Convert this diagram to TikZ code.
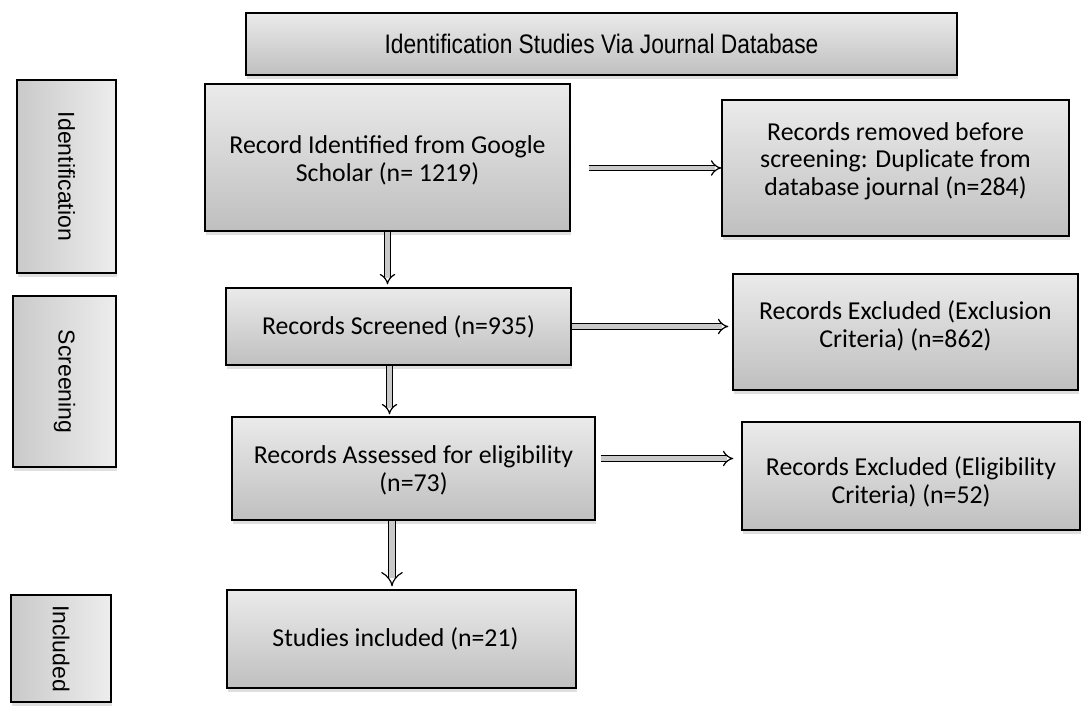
\documentclass[tikz,border=0pt]{standalone}
\usepackage{fontspec}
\newfontfamily\carl{Carlito}
\newfontfamily\arl{Liberation Sans}
\newfontfamily\ttl[FakeStretch=0.85]{Liberation Sans}
\usetikzlibrary{arrows.meta,shadows,calc}
\begin{document}
\begin{tikzpicture}[x=1pt,y=-1pt,
  box/.style={draw=black, line width=1.4pt, top color=gray!16, bottom color=gray!50,
    drop shadow={shadow xshift=1pt, shadow yshift=-4pt, opacity=0.25}, inner sep=0pt},
  bt/.style={align=center, font=\carl\fontsize{25.8}{27.5}\selectfont, inner sep=0pt},
  side/.style={draw=black, line width=1.4pt, left color=gray!42, right color=gray!14,
    drop shadow={shadow xshift=1pt, shadow yshift=-4pt, opacity=0.25}, inner sep=0pt},
  sidetext/.style={rotate=-90, font=\arl\fontsize{23}{25}\selectfont},
  arr/.style={line width=1.2pt, double=gray!42, double distance=4.2pt, -{Implies}},
  wide/.style={arr, double distance=6.5pt}]
\useasboundingbox (0,0) rectangle (1085,708);

\node[box, minimum width=711pt, minimum height=62pt,
  label={[font=\ttl\fontsize{26.8}{28}\selectfont]center:Identification Studies Via Journal Database}] (title) at (601.5,44) {};

\node[side, minimum width=99pt, minimum height=193pt, label={[sidetext]center:Identification}] (sid) at (66.5,176.5) {};
\node[side, minimum width=103pt, minimum height=171pt, label={[sidetext]center:Screening}] (sscr) at (64.5,381.5) {};
\node[side, minimum width=100pt, minimum height=107pt, label={[sidetext]center:Included}] (sinc) at (61,648.5) {};

\node[box, minimum width=365pt, minimum height=147pt,
  label={[bt, yshift=-3pt]center:{Record Identified from Google\\Scholar (n= 1219)}}] (b1) at (387.5,157.5) {};
\node[box, minimum width=347pt, minimum height=136pt,
  label={[bt, yshift=7pt]center:{Records removed before\\screening: Duplicate from\\database journal (n=284)}}] (rem) at (895.5,168) {};
\node[box, minimum width=345pt, minimum height=77pt,
  label={[bt]center:{Records Screened (n=935)}}] (scr) at (398.5,326.5) {};
\node[box, minimum width=345pt, minimum height=116pt,
  label={[bt, yshift=6pt]center:{Records Excluded (Exclusion\\Criteria) (n=862)}}] (ex1) at (905.5,332) {};
\node[box, minimum width=363pt, minimum height=103pt,
  label={[bt, yshift=-2pt]center:{Records Assessed for eligibility\\(n=73)}}] (ass) at (413.5,468.5) {};
\node[box, minimum width=338pt, minimum height=108pt,
  label={[bt, yshift=-6pt]center:{Records Excluded (Eligibility\\Criteria) (n=52)}}] (ex2) at (911,476) {};
\node[box, minimum width=349pt, minimum height=98pt,
  label={[bt, xshift=-6pt]center:{Studies included (n=21)}}] (stu) at (401.5,639) {};

\coordinate (a1) at ($(b1.east)+(18,0)$);
\draw[arr] (a1 |- rem.west) -- (rem.west);
\draw[arr, shorten >=3pt] (b1.south) -- (b1.south |- scr.north);
\draw[arr, shorten >=4pt] (scr.east) -- (scr.east -| ex1.west);
\coordinate (a3) at ($(scr.south)+(-9,0)$);
\draw[arr, shorten >=2pt] (a3) -- (a3 |- ass.north);
\coordinate (a4) at ($(ass.east)+(5,-10)$);
\draw[arr, shorten >=8pt] (a4) -- (a4 -| ex2.west);
\coordinate (a5) at ($(ass.south)+(-21.5,0)$);
\draw[wide, shorten >=3pt] (a5) -- (a5 |- stu.north);
\end{tikzpicture}
\end{document}
